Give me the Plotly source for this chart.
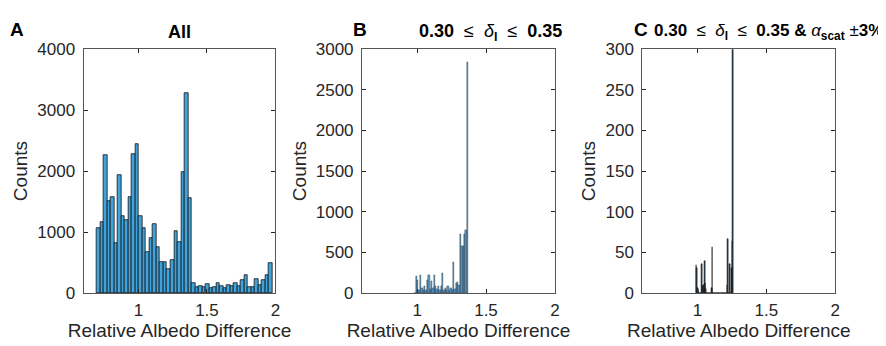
import plotly.graph_objects as go

# ---------------- data ----------------
# Panel A: histogram of all data (50 bins)
a_bin_start = 0.697
a_bin_width = 0.0256
a_counts = [1065, 1165, 2262, 1500, 1575, 825, 1925, 1266, 1202, 1578,
            2272, 2448, 1266, 1068, 670, 906, 1123, 756, 502, 502,
            385, 543, 1018, 834, 1982, 3277, 1560, 166, 98, 114,
            98, 145, 78, 88, 155, 119, 78, 130, 119, 166,
            119, 218, 285, 88, 88, 223, 130, 218, 285, 495]

# Panel B: 0.30 <= delta_l <= 0.35
b_bin_start = 0.98
b_bin_width = 0.01
b_counts = [0, 206, 163, 40, 214, 58, 30, 78, 40, 155,
            214, 50, 144, 60, 225, 78, 50, 86, 40, 86,
            245, 40, 58, 30, 78, 30, 58, 40, 381, 50,
            124, 136, 100, 727, 571, 571, 719, 777, 2837]

# Panel C: 0.30 <= delta_l <= 0.35 & alpha_scat +-3%
c_bin_start = 0.99
c_bin_width = 0.005
c_counts = [34, 30, 6, 3, 0, 0, 0, 0, 36, 8,
            0, 10, 39, 12, 5, 0, 0, 0, 0, 0,
            0, 0, 6, 56, 0, 0, 0, 0, 0, 0,
            0, 0, 0, 0, 0, 0, 0, 0, 0, 0,
            0, 0, 0, 0, 0, 10, 66, 0, 35, 0,
            0, 31, 64, 2800]

x_ticks = [1, 1.5, 2]
x_tick_labels = ["1", "1.5", "2"]
a_y_ticks = [0, 1000, 2000, 3000, 4000]
b_y_ticks = [0, 500, 1000, 1500, 2000, 2500, 3000]
c_y_ticks = [0, 50, 100, 150, 200, 250, 300]


def centers(start, width, n):
    return [start + width * (i + 0.5) for i in range(n)]


FONT = "Liberation Sans"
TXT = "#262626"
BAR = "#41A3DB"

fig = go.Figure()
fig.add_trace(go.Bar(x=centers(a_bin_start, a_bin_width, len(a_counts)), y=a_counts,
                     width=a_bin_width, marker=dict(color=BAR, line=dict(color="#111111", width=0.8)),
                     xaxis="x", yaxis="y", showlegend=False))
fig.add_trace(go.Bar(x=centers(b_bin_start, b_bin_width, len(b_counts)), y=b_counts,
                     width=b_bin_width, marker=dict(color="#5a9ccc", line=dict(color="#1a2a38", width=0.4)),
                     xaxis="x2", yaxis="y2", showlegend=False))
fig.add_trace(go.Bar(x=centers(c_bin_start, c_bin_width, len(c_counts)), y=c_counts,
                     width=c_bin_width, marker=dict(color="#2c4a60", line=dict(color="#111111", width=0.6)),
                     xaxis="x3", yaxis="y3", showlegend=False))

W, H = 886, 346
ydom = [(H - 292) / H, (H - 34) / H]
xdoms = [[76 / W, 269 / W], [356 / W, 550 / W], [638 / W, 832 / W]]

common_x = dict(range=[0.6, 2], tickvals=x_ticks, ticktext=x_tick_labels, ticks="inside",
                ticklen=4, tickcolor=TXT, mirror="allticks", showline=True, linecolor="#555555",
                linewidth=1, showgrid=False, zeroline=False, ticklabelstandoff=2,
                tickfont=dict(family=FONT, size=17, color=TXT),
                title=dict(text="Relative Albedo Difference", font=dict(family=FONT, size=19, color=TXT),
                           standoff=4))
common_y = dict(ticks="inside", ticklen=4, tickcolor=TXT, mirror="allticks", showline=True,
                linecolor="#555555", linewidth=1, showgrid=False, zeroline=False, domain=ydom,
                ticklabelstandoff=4,
                tickfont=dict(family=FONT, size=17, color=TXT),
                title=dict(text="Counts", font=dict(family=FONT, size=19, color=TXT), standoff=4))

layout = dict(width=W, height=H, margin=dict(l=0, r=0, t=0, b=0), bargap=0,
              plot_bgcolor="white", paper_bgcolor="white", font=dict(family=FONT, color=TXT))
for i, (yr, yt) in enumerate([([0, 4000], a_y_ticks), ([0, 3000], b_y_ticks), ([0, 300], c_y_ticks)]):
    sx = "" if i == 0 else str(i + 1)
    layout["xaxis" + sx] = dict(common_x, domain=xdoms[i], anchor="y" + sx)
    layout["yaxis" + sx] = dict(common_y, range=yr, tickvals=yt, anchor="x" + sx)
fig.update_layout(**layout)

S = "\u00a0"
LE = S + "≤" + S
ann = []
for letter, xp in [("A", 9), ("B", 354), ("C", 637)]:
    ann.append(dict(text="<b>%s</b>" % letter, x=xp / W, y=1 - 13 / H, xref="paper", yref="paper",
                    showarrow=False, font=dict(family=FONT, size=19, color="black"),
                    xanchor="center", yanchor="middle"))
titles = [
    ("<b>All</b>", 172 / W, "center", 18),
    ("<b>0.30</b> " + LE + " <i>δ</i><sub><b>l</b></sub> " + LE + " <b>0.35</b>", 485 / W, "center", 18),
    ("<b>0.30</b> " + LE + " <i>δ</i><sub><b>l</b></sub> " + LE
     + " <b>0.35 &amp;</b> <i>α</i><sub><b>scat</b></sub> ±<b>3%</b>",
     882 / W, "right", 17),
]
for t, xp, anc, fs in titles:
    ann.append(dict(text=t, x=xp, y=1 - 16 / H, xref="paper", yref="paper", showarrow=False,
                    font=dict(family=FONT, size=fs, color="black"), xanchor=anc, yanchor="middle"))
fig.update_layout(annotations=ann)

fig.write_html("out.html")
